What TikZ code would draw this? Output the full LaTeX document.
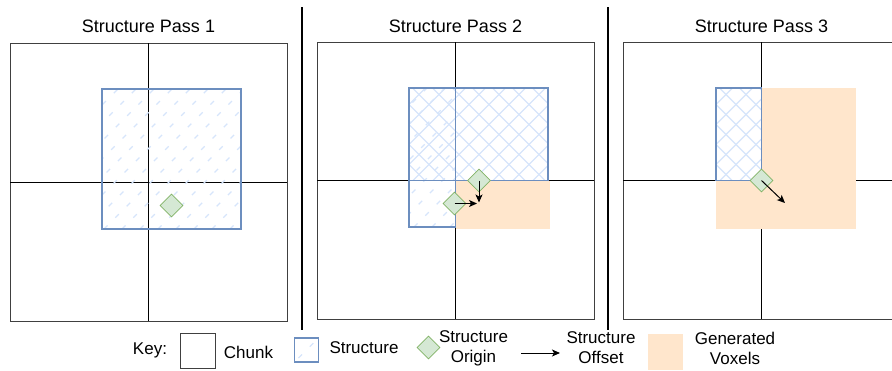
\documentclass[tikz,border=0pt]{standalone}
\usepackage{fontspec}
\setmainfont{Liberation Sans}
\usepackage{tikz}
\usetikzlibrary{arrows.meta,positioning,shapes.geometric}
\definecolor{strokeblue}{HTML}{6C8EBF}
\definecolor{hatchblue}{HTML}{D6E5FB}
\definecolor{origingreen}{HTML}{D5E8D4}
\definecolor{originedge}{HTML}{82B366}
\definecolor{voxel}{HTML}{FFE6CC}
\tikzset{
    chunk/.style={
           draw=black!75,
           line width=1pt,
           },
    chunkline/.style={draw=black, line width=0.8pt},
    structure/.style={draw=strokeblue, line width=1.8pt},
    origin/.style={
           diamond, aspect=1,
           draw=originedge, fill=origingreen,
           line width=0.8pt,
           minimum size=23pt, inner sep=0pt,
           },
    offset/.style={-{Stealth[length=8pt,width=7pt,inset=2pt]}, line width=1pt},
    generated/.style={fill=voxel, draw=none},
    title/.style={font=\fontsize{18}{20}\selectfont},
    key/.style={font=\fontsize{17}{20}\selectfont, align=center},
    dashhatch/.style={draw=hatchblue, line width=1.3pt, dash pattern=on 5pt off 11pt},
    crosshatch/.style={draw=hatchblue, line width=1.3pt},
}

\begin{document}
\begin{tikzpicture}[x=1pt,y=-1pt]
 \useasboundingbox (0,0) rectangle (892,370);

 % Pass 1
 \node[title] (T1) at (148.5,26) {Structure Pass 1};
 \draw[chunk] (10,43) rectangle (287,321);
 \draw[chunkline] (148.5,43) -- (148.5,321) (10,182) -- (287,182);
 \begin{scope}
  \clip (102,89) rectangle (241,229);
  \foreach \d in {-40,-22,...,248}
   \draw[dashhatch] (\d,229) -- ++(160,-160);
 \end{scope}
 \draw[structure] (102,89) rectangle (241,229);
 \node[origin] (O1) at (171.5,205.5) {};

 % separators
 \draw[line width=2pt] (301.5,7) -- (301.5,330);
 \draw[line width=2pt] (608,7) -- (608,330);

 % Pass 2
 \node[title] (T2) at (455.5,26) {Structure Pass 2};
 \draw[chunk] (317,42) rectangle (594,319);
 \draw[chunkline] (455.5,42) -- (455.5,319) (317,180.5) -- (594,180.5);
 \begin{scope}
  \clip (409,88) rectangle (455,227);
  \foreach \d in {270,288,...,470}
   \draw[dashhatch] (\d,227) -- ++(160,-160);
 \end{scope}
 \begin{scope}
  \clip (409,88) rectangle (548,180.5);
  \foreach \d in {313,333,...,553}
   \draw[crosshatch] (\d,180.5) -- ++(120,-120);
  \foreach \d in {405,425,...,645}
   \draw[crosshatch] (\d,180.5) -- ++(-120,-120);
 \end{scope}
 \fill[generated] (455.5,180.5) rectangle (550,229);
 \draw[structure] (409,88) rectangle (548,180.5);
 \draw[structure] (409,180.5) rectangle (455.5,227);
 \draw[structure] (455.5,88) -- (455.5,180.5);
 \node[origin] (O2a) at (479,180.5) {};
 \node[origin] (O2b) at (454.5,203.5) {};
 \coordinate (E2a) at (479,202.5);
 \coordinate (E2b) at (477,203.5);
 \draw[offset] (O2a.center) -- (E2a);
 \draw[offset] (O2b.center) -- (E2b);

 % Pass 3
 \node[title] (T3) at (761.5,26) {Structure Pass 3};
 \draw[chunk] (623,42) rectangle (900,319);
 \draw[chunkline] (761.5,42) -- (761.5,319) (623,180.5) -- (900,180.5);
 \fill[generated] (716,88) rectangle (856,229);
 \begin{scope}
  \clip (716,88) rectangle (761.5,180.5);
  \fill[white] (716,88) rectangle (761.5,180.5);
  \foreach \d in {620,640,...,780}
   \draw[crosshatch] (\d,180.5) -- ++(120,-120);
  \foreach \d in {712,732,...,860}
   \draw[crosshatch] (\d,180.5) -- ++(-120,-120);
 \end{scope}
 \draw[structure] (716,88) rectangle (761.5,180.5);
 \node[origin] (O3) at (761.5,180.5) {};
 \coordinate (E3) at (785,203);
 \draw[offset] (O3.center) -- (E3);

 % Key
 \node[key] (KEY) at (150,350) {Key:};
 \node[chunk, minimum size=35pt, inner sep=0pt] (KCHUNK) at (197.5,351) {};
 \node[key] (LCHUNK) at (248.5,352) {Chunk};
 \node[structure, minimum size=24pt, inner sep=0pt,
  path picture={\draw[dashhatch] ([shift={(4pt,4pt)}]path picture bounding box.south west)
   -- ([shift={(-4pt,-4pt)}]path picture bounding box.north east);}] (KSTRUCT) at (306.5,350) {};
 \node[key] (LSTRUCT) at (364,348) {Structure};
 \node[origin] (KORIGIN) at (428.5,347.5) {};
 \node[key] (LORIGIN) at (473.5,348) {Structure\\Origin};
 \coordinate (KOFFA) at (521,353);
 \coordinate (KOFFB) at (560,353);
 \draw[offset] (KOFFA) -- (KOFFB);
 \node[key] (LOFFSET) at (601,348) {Structure\\Offset};
 \node[generated, minimum width=35pt, minimum height=36pt, inner sep=0pt] (KVOXEL) at (665.5,352) {};
 \node[key] (LVOXEL) at (735,348) {Generated\\Voxels};

\end{tikzpicture}
\end{document}
